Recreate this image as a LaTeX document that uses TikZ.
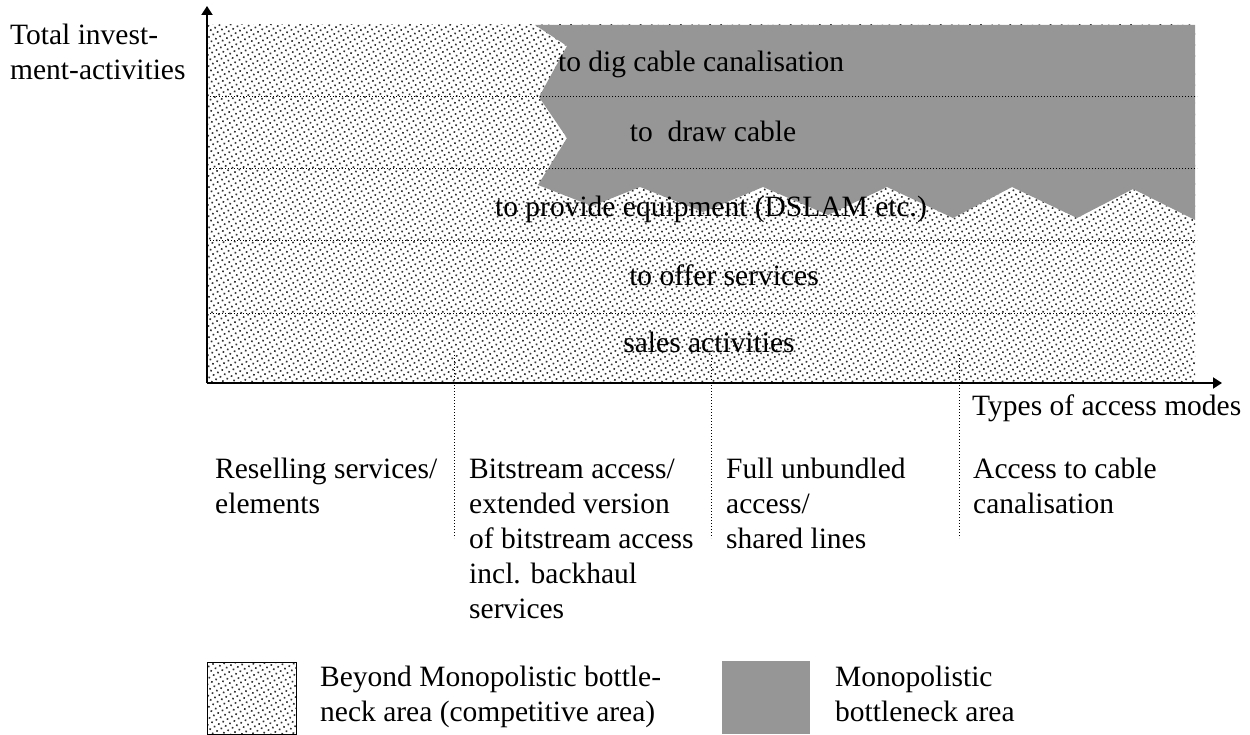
\documentclass[tikz,border=0pt]{standalone}
\usepackage{fontspec}
\setmainfont{Liberation Serif}
\usetikzlibrary{patterns.meta,arrows.meta}
\definecolor{mono}{RGB}{150,150,150}
\tikzset{
  compet/.style={pattern={Dots[distance=5pt, angle=30, radius=1.15pt]}, pattern color=black!80},
  monofill/.style={fill=mono},
  axis/.style={line width=2pt, -{Triangle[length=9pt,width=11pt]}},
  grid/.style={dotted, line width=1pt},
  lbl/.style={inner sep=0pt, font=\fontsize{29.5}{35}\selectfont, align=left},
  clbl/.style={inner sep=0pt, font=\fontsize{29.5}{35}\selectfont, anchor=base},
}
\begin{document}
\begin{tikzpicture}[x=1pt,y=-1pt]
\useasboundingbox (0,0) rectangle (1250,735);
% competitive area
\fill[white] (207,25) rectangle (1195,383);
\fill[compet] (207,25) rectangle (1195,383);
% monopolistic area
\fill[monofill] (535,25) -- (1195,25) -- (1195,220) -- (1133,189) -- (1077,218) -- (1012,187)
  -- (953,218) -- (887,187) -- (828,215) -- (763,187) -- (703,212) -- (640,187) -- (592,206)
  -- (538,185) -- (567,138) -- (539,97) -- (567,46) -- cycle;
% horizontal dotted separators
\foreach \yy in {97,169,241,313}
  \draw[grid] (207,\yy) -- (1197,\yy);
% activity labels
\node[clbl] (dig) at (701,72) {to dig cable canalisation};
\node[clbl] (draw) at (713,142) {to\ \ draw cable};
\node[clbl] (equip) at (711,217) {to provide equipment (DSLAM etc.)};
\node[clbl] (offer) at (724,286) {to offer services};
\node[clbl] (sales) at (709,352) {sales activities};
% axes
\coordinate (O) at (207,383);
\coordinate (ytop) at (207,6);
\coordinate (xend) at (1222,383);
\draw[axis] (O) -- (ytop);
\draw[axis] (O) -- (xend);
% vertical dotted separators
\coordinate (v1t) at (454,355); \coordinate (v1b) at (454,538);
\coordinate (v2t) at (711,355); \coordinate (v2b) at (711,538);
\coordinate (v3t) at (959,355); \coordinate (v3b) at (959,538);
\draw[grid] (v1t) -- (v1b);
\draw[grid] (v2t) -- (v2b);
\draw[grid] (v3t) -- (v3b);
% axis labels (base anchor = baseline of last line)
\node[lbl, anchor=base west] (ylab) at (10,80) {Total invest-\\ment-activities};
\node[lbl, anchor=base west] (xlab) at (972,415) {Types of access modes};
% access modes
\node[lbl, anchor=base west] (m1) at (215,513) {Reselling services/\\elements};
\node[lbl, anchor=base west] (m2) at (469,618) {Bitstream access/\\extended version\\of bitstream access\\incl. backhaul\\services};
\node[lbl, anchor=base west] (m3) at (726,548) {Full unbundled\\access/\\shared lines};
\node[lbl, anchor=base west] (m4) at (973,513) {Access to cable\\canalisation};
% legend
\node[draw, line width=1.2pt, compet, minimum width=89pt, minimum height=72pt, inner sep=0pt, anchor=north west] (legc) at (207,662) {};
\node[lbl, anchor=base west] (legct) at (320,721) {Beyond Monopolistic bottle-\\neck area (competitive area)};
\node[monofill, minimum width=88pt, minimum height=73pt, inner sep=0pt, anchor=north west] (legm) at (722,661) {};
\node[lbl, anchor=base west] (legmt) at (835,721) {Monopolistic\\bottleneck area};
\end{tikzpicture}
\end{document}
